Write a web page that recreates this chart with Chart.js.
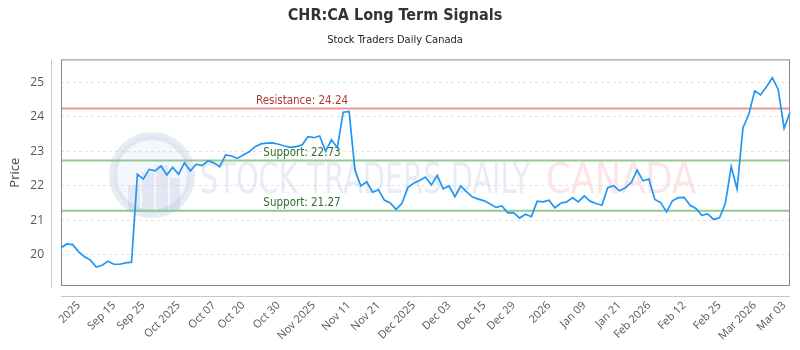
<!DOCTYPE html>
<html>
<head>
<meta charset="utf-8">
<title>CHR:CA Long Term Signals</title>
<script src="https://cdn.jsdelivr.net/npm/chart.js@4.4.1/dist/chart.umd.min.js"></script>
<style>
    html, body { margin: 0; padding: 0; background: #fff; }
    #wrap { width: 800px; height: 350px; }
</style>
</head>
<body>
<div id="wrap"><canvas id="chart"></canvas></div>
<script>
// Daily closes, oldest first
const prices = [
    20.20, 20.31, 20.29, 20.08, 19.94, 19.84, 19.64, 19.69, 19.81, 19.72,
    19.72, 19.76, 19.78, 22.33, 22.19, 22.47, 22.43, 22.57, 22.31, 22.53,
    22.33, 22.66, 22.43, 22.62, 22.58, 22.72, 22.66, 22.55, 22.89, 22.86,
    22.79, 22.89, 22.98, 23.13, 23.21, 23.23, 23.24, 23.20, 23.15, 23.11,
    23.13, 23.18, 23.42, 23.39, 23.44, 23.00, 23.33, 23.10, 24.13, 24.15,
    22.45, 21.99, 22.11, 21.81, 21.88, 21.58, 21.50, 21.31, 21.49, 21.95,
    22.07, 22.15, 22.25, 22.02, 22.30, 21.91, 21.99, 21.68, 21.99, 21.82,
    21.67, 21.61, 21.56, 21.47, 21.37, 21.41, 21.21, 21.22, 21.06, 21.17,
    21.10, 21.55, 21.53, 21.58, 21.36, 21.49, 21.53, 21.65, 21.53, 21.70,
    21.55, 21.48, 21.43, 21.94, 22.00, 21.85, 21.94, 22.09, 22.45, 22.14,
    22.19, 21.60, 21.51, 21.24, 21.56, 21.65, 21.66, 21.43, 21.34, 21.14,
    21.18, 21.02, 21.07, 21.48, 22.55, 21.90, 23.68, 24.07, 24.75, 24.63,
    24.87, 25.13, 24.78, 23.66, 24.13
];

// x axis labels and the point each one sits under
const tickLabels = [
    '2025', 'Sep 15', 'Sep 25', 'Oct 2025', 'Oct 07', 'Oct 20', 'Oct 30',
    'Nov 2025', 'Nov 11', 'Nov 21', 'Dec 2025', 'Dec 03', 'Dec 15', 'Dec 29',
    '2026', 'Jan 09', 'Jan 21', 'Feb 2026', 'Feb 12', 'Feb 25', 'Mar 2026', 'Mar 03'
];
const tickIndex = [3, 9, 14, 20, 26, 31, 37, 43, 49, 54, 60, 66, 72, 77, 83, 89, 95, 100, 106, 112, 118, 123];

// Signal levels
const levelNames = ['Resistance', 'Support', 'Support'];
const levelValues = [24.24, 22.73, 21.27];
const levelKinds = ['resistance', 'support', 'support'];

const LEVEL_STYLE = {
    resistance: { line: 'rgba(240, 110, 110, 0.75)', text: '#b23a34' },
    support: { line: 'rgba(110, 185, 110, 0.75)', text: '#2f6f2f' }
};
const NARROW = "'Liberation Sans Narrow', 'DejaVu Sans Condensed', 'Roboto', sans-serif";
const TICK_FONT = { family: "'Open Sans', sans-serif", size: 11 };

// Faint logo + "STOCK TRADERS DAILY CANADA" behind the line
const watermark = {
    id: 'watermark',
    beforeDatasetsDraw(chart) {
        const ctx = chart.ctx;
        ctx.save();
        // logo circle
        ctx.strokeStyle = 'rgba(175, 190, 220, 0.3)';
        ctx.fillStyle = 'rgba(210, 220, 240, 0.22)';
        ctx.lineWidth = 8;
        ctx.beginPath();
        ctx.arc(152, 175, 39, 0, Math.PI * 2);
        ctx.fill();
        ctx.stroke();
        ctx.fillStyle = 'rgba(160, 175, 210, 0.22)';
        [[128, 185, 12, 25], [142, 172, 12, 38], [156, 165, 12, 45], [170, 178, 10, 32]].forEach(b => {
            ctx.fillRect(b[0], b[1], b[2], b[3]);
        });

        ctx.textBaseline = 'alphabetic';
        ctx.textAlign = 'left';
        ctx.font = '42px ' + NARROW;
        const drawSquashed = (text, x, w, color) => {
            const m = ctx.measureText(text).width;
            ctx.save();
            ctx.translate(x, 193);
            ctx.scale(w / m, 1);
            ctx.fillStyle = color;
            ctx.fillText(text, 0, 0);
            ctx.restore();
        };
        drawSquashed('STOCK TRADERS DAILY', 200, 330, 'rgba(180, 195, 225, 0.32)');
        drawSquashed('CANADA', 546, 150, 'rgba(250, 150, 150, 0.25)');
        ctx.restore();
    }
};

// Plot frame, offset axis lines and the signal levels
const frame = {
    id: 'frame',
    beforeDatasetsDraw(chart) {
        const ctx = chart.ctx;
        const a = chart.chartArea;
        const y = chart.scales.y;
        ctx.save();

        levelValues.forEach((v, i) => {
            const st = LEVEL_STYLE[levelKinds[i]];
            const py = y.getPixelForValue(v);
            ctx.strokeStyle = st.line;
            ctx.lineWidth = 2;
            ctx.beginPath();
            ctx.moveTo(a.left, py);
            ctx.lineTo(a.right, py);
            ctx.stroke();
            ctx.fillStyle = st.text;
            ctx.font = '11.5px ' + NARROW;
            ctx.textAlign = 'center';
            ctx.textBaseline = 'bottom';
            ctx.fillText(levelNames[i] + ': ' + v.toFixed(2), a.left + a.width / 3 - 2, py - 2);
        });

        ctx.strokeStyle = '#8a8a8a';
        ctx.lineWidth = 1;
        ctx.strokeRect(a.left + 0.5, a.top + 0.5, a.width - 1, a.height - 1);

        ctx.strokeStyle = '#c6c6c6';
        ctx.beginPath();
        ctx.moveTo(a.left - 9.5, a.top);
        ctx.lineTo(a.left - 9.5, a.bottom + 2);
        ctx.moveTo(a.left, a.bottom + 10.5);
        ctx.lineTo(a.right, a.bottom + 10.5);
        ctx.stroke();
        ctx.restore();
    }
};

new Chart(document.getElementById('chart'), {
    type: 'line',
    data: {
        labels: prices.map((p, i) => i),
        datasets: [{
            label: 'Price',
            data: prices,
            borderColor: '#2196f3',
            borderWidth: 1.7,
            pointRadius: 0,
            tension: 0,
            fill: false
        }]
    },
    options: {
        responsive: true,
        maintainAspectRatio: false,
        animation: false,
        layout: {
            padding: { left: 0, right: 10, top: 0, bottom: 0 }
        },
        plugins: {
            legend: { display: false },
            tooltip: { enabled: false },
            title: {
                display: true,
                text: 'CHR:CA Long Term Signals',
                color: '#333',
                font: { family: NARROW, size: 16, weight: 'bold' },
                padding: { top: 6, bottom: 4 }
            },
            subtitle: {
                display: true,
                text: 'Stock Traders Daily Canada',
                color: '#222',
                font: { family: NARROW, size: 11 },
                padding: { top: 4, bottom: 13 }
            }
        },
        scales: {
            x: {
                grid: { display: false },
                border: { display: false },
                ticks: {
                    autoSkip: false,
                    minRotation: 45,
                    maxRotation: 45,
                    padding: 5,
                    color: '#555',
                    font: TICK_FONT,
                    callback: function(value, index) {
                        const k = tickIndex.indexOf(index);
                        return k >= 0 ? tickLabels[k] : '';
                    }
                },
                afterFit(scale) {
                    scale.height = 64;
                    scale.paddingLeft = 0;
                    scale.paddingRight = 0;
                }
            },
            y: {
                min: 19.09,
                max: 25.66,
                border: { display: false, dash: [3, 3] },
                grid: { color: '#e3e3e3', drawTicks: false },
                ticks: {
                    stepSize: 1,
                    includeBounds: false,
                    padding: 17,
                    color: '#555',
                    font: { family: "'Open Sans', sans-serif", size: 12 }
                },
                title: {
                    display: true,
                    text: 'Price',
                    color: '#444',
                    font: { family: "'Open Sans', sans-serif", size: 13 },
                    padding: { top: 7, bottom: 5 }
                },
                afterFit(scale) {
                    scale.width = 61;
                }
            }
        }
    },
    plugins: [watermark, frame]
});
</script>
</body>
</html>
